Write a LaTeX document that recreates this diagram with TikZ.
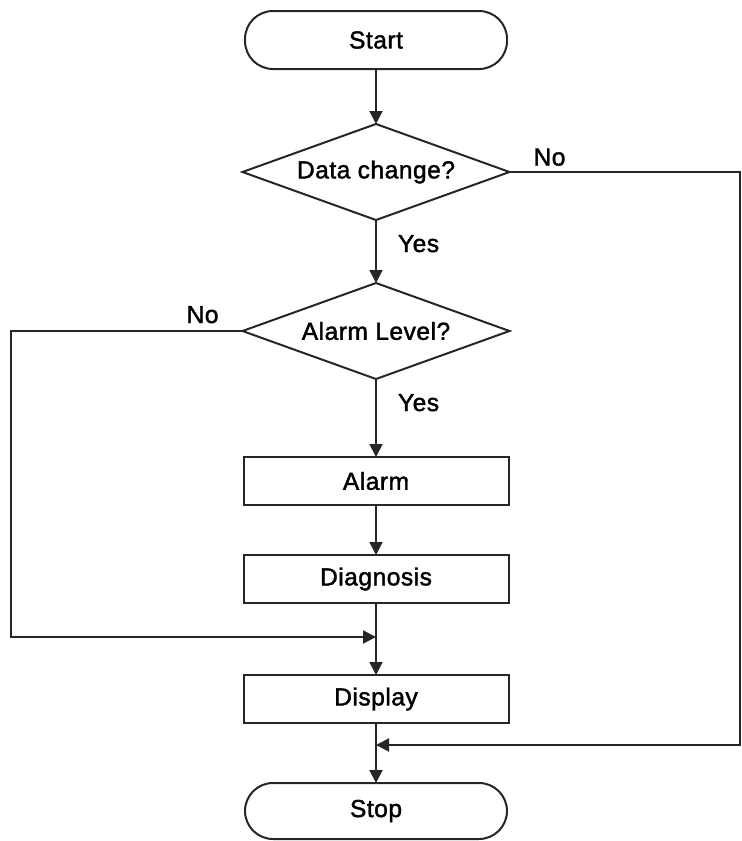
\documentclass[tikz,border=0pt]{standalone}
\usepackage{fontspec}
\setmainfont{Liberation Sans}[FakeBold=1.6,LetterSpace=2]
\usetikzlibrary{positioning,shapes.geometric,arrows.meta}

\begin{document}
\begin{tikzpicture}[font=\fontsize{12.3}{14}\selectfont, line width=1pt,
    every node/.style={outer sep=0pt},
    term/.style={rectangle,draw=black!85,rounded corners=14pt,minimum width=131pt,minimum height=29pt},
    proc/.style={rectangle,draw=black!85,minimum width=132.5pt,minimum height=24pt},
    dec/.style={diamond,draw=black!85,aspect=2.8,inner sep=0pt,minimum width=133.5pt,minimum height=48pt},
    arr/.style={draw=black!85,-{Triangle[length=6.5pt,width=6.5pt]}},
    lbl/.style={inner sep=0pt}]
        \useasboundingbox (0,0) rectangle (371pt,-420.5pt);

        \node [term] (start) at (188pt,-20pt) {Start};
        \node [dec, below=27.5pt of start] (dc) {Data change?};
        \node [dec, below=31.5pt of dc] (al) {Alarm Level?};
        \node [proc, below=39pt of al] (alarm) {Alarm};
        \node [proc, below=25pt of alarm] (diag) {Diagnosis};
        \node [proc, below=36pt of diag] (disp) {Display};
        \node [term, below=30pt of disp, minimum height=28pt] (stop) {Stop};

        \coordinate (jl) at ([yshift=-17pt]diag.south);
        \coordinate (jr) at ([yshift=-11pt]disp.south);
        \coordinate (cl) at (5.5pt,0);
        \coordinate (cr) at (370pt,0);

        \draw [arr] (start) -- (dc);
        \draw [arr] (dc) -- (al);
        \draw [arr] (al) -- (alarm);
        \draw [arr] (alarm) -- (diag);
        \draw [arr] (diag) -- (disp);
        \draw [arr] (disp) -- (stop);
        \draw [arr] (dc.east) -| (cr |- jr) -- (jr);
        \draw [arr] (al.west) -| (cl |- jl) -- (jl);

        \node [lbl, anchor=base west] (no1) at ([xshift=12pt,yshift=3.25pt]dc.east) {No};
        \node [lbl, anchor=base west] (yes1) at ([xshift=11pt,yshift=-16pt]dc.south) {Yes};
        \node [lbl, anchor=base east] (no2) at ([xshift=-12pt,yshift=4pt]al.west) {No};
        \node [lbl, anchor=base west] (yes2) at ([xshift=11pt,yshift=-16pt]al.south) {Yes};
    \end{tikzpicture}
\end{document}
